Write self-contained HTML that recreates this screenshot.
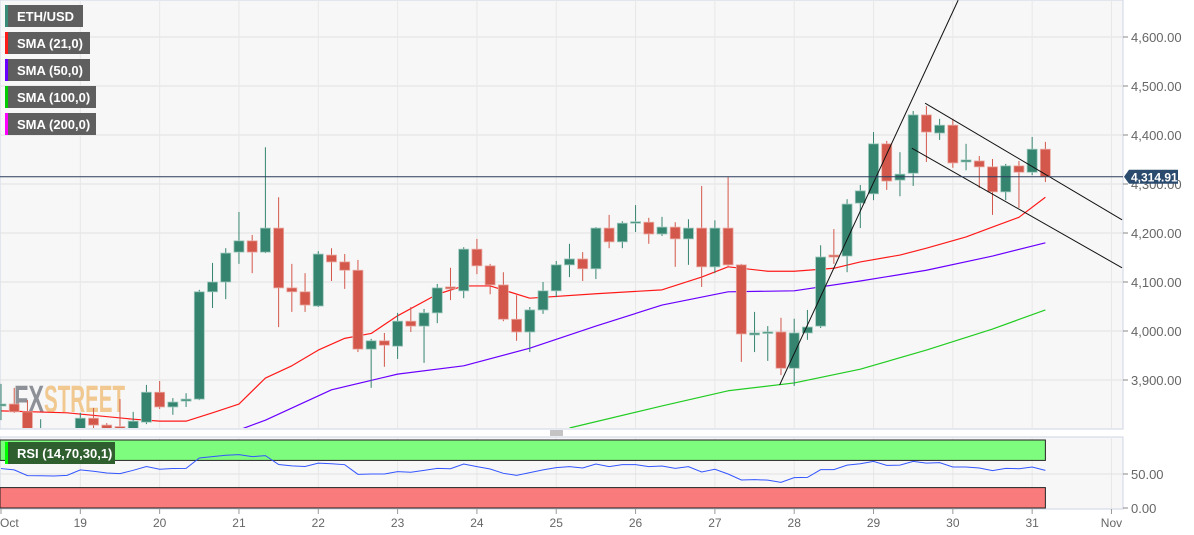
<!DOCTYPE html>
<html><head><meta charset="utf-8"><style>
html,body{margin:0;padding:0;background:#fff;}
svg{display:block;font-family:"Liberation Sans",sans-serif;}
</style></head><body>
<svg id="c" width="1194" height="535" xmlns="http://www.w3.org/2000/svg">
<rect x="0" y="0" width="1194" height="535" fill="#ffffff"/>
<rect x="0" y="0" width="1123" height="429" fill="#f7f7f7" stroke="#cfd6e4"/>
<rect x="0" y="437" width="1123" height="72" fill="#f7f7f7" stroke="#cfd6e4"/>
<g id="grid"></g>
<g>
<text x="14" y="412" font-family="'Liberation Sans Narrow','Liberation Sans',sans-serif" font-weight="bold" font-size="38" fill="#8d9097" textLength="30" lengthAdjust="spacingAndGlyphs">FX</text>
<text x="44" y="412" font-family="'Liberation Sans Narrow','Liberation Sans',sans-serif" font-weight="bold" font-size="38" fill="#f0c890" textLength="81" lengthAdjust="spacingAndGlyphs">STREET</text>
</g>
<g id="price" clip-path="url(#pclip)"></g>
<g id="rsi"></g>
<g id="axes"></g>
<defs><clipPath id="pclip"><rect x="0" y="0" width="1123" height="428"/></clipPath></defs>
<g font-size="13" font-weight="bold" fill="#fff">
<g><rect x="5" y="5" width="78" height="22" fill="#5f5f5f"/><rect x="5" y="5" width="3" height="22" fill="#3a8a78"/><text x="17" y="21" fill="#fff">ETH/USD</text></g>
<g><rect x="5" y="32" width="85" height="22" fill="#5f5f5f"/><rect x="5" y="32" width="3" height="22" fill="#ff1a1a"/><text x="17" y="48" fill="#fff">SMA (21,0)</text></g>
<g><rect x="5" y="59" width="85" height="22" fill="#5f5f5f"/><rect x="5" y="59" width="3" height="22" fill="#6a00ff"/><text x="17" y="75" fill="#fff">SMA (50,0)</text></g>
<g><rect x="5" y="86" width="91" height="22" fill="#5f5f5f"/><rect x="5" y="86" width="3" height="22" fill="#00cc00"/><text x="17" y="102" fill="#fff">SMA (100,0)</text></g>
<g><rect x="5" y="113" width="91" height="22" fill="#5f5f5f"/><rect x="5" y="113" width="3" height="22" fill="#ff00ff"/><text x="17" y="129" fill="#fff">SMA (200,0)</text></g>
</g>
<g stroke="#888"><line x1="550" y1="431" x2="563" y2="431"/><line x1="550" y1="433" x2="563" y2="433"/><line x1="550" y1="435" x2="563" y2="435"/></g>
</svg>
<script>
const opens=[3847,3851,3835,3770,3790,3775,3790,3822,3808,3805,3795,3814,3875,3845,3857,3861,4080,4100,4161,4184,4161,4210,4088,4080,4051,4155,4141,4124,3963,3980,3969,4020,4010,4037,4090,4082,4167,4133,4094,4024,3998,4043,4082,4135,4147,4127,4210,4182,4220,4222,4198,4212,4188,4210,4131,4210,4135,3992,3996,3998,3924,3996,4010,4155,4153,4261,4280,4382,4308,4322,4441,4404,4420,4345,4347,4335,4284,4337,4324,4371];
const highs=[3892,3884,3859,3820,3800,3800,3833,3843,3812,3861,3835,3890,3898,3863,3873,4084,4139,4169,4243,4196,4375,4273,4137,4118,4163,4169,4157,4145,3984,3996,4037,4049,4045,4096,4129,4171,4188,4137,4120,4073,4049,4100,4143,4178,4161,4212,4237,4224,4257,4231,4233,4222,4228,4296,4226,4314,4137,4039,4010,4027,4025,4043,4175,4208,4269,4298,4406,4388,4365,4449,4459,4433,4433,4382,4357,4351,4341,4347,4396,4386];
const lows=[3818,3833,3760,3750,3750,3760,3780,3800,3780,3785,3785,3810,3841,3829,3845,3859,4047,4065,4137,4118,4159,4008,4039,4039,4049,4102,4086,3957,3884,3927,3943,3998,3935,4016,4063,4067,4116,4075,4020,3980,3957,4035,4069,4110,4102,4106,4169,4169,4202,4178,4194,4131,4135,4090,4118,4133,3937,3957,3939,3910,3888,3982,4006,4137,4120,4210,4267,4288,4275,4296,4345,4390,4333,4328,4292,4237,4267,4251,4318,4304];
const closes=[3851,3835,3780,3790,3770,3795,3822,3808,3790,3800,3816,3875,3845,3855,3861,4080,4100,4159,4184,4161,4210,4088,4080,4053,4157,4141,4124,3963,3980,3971,4020,4010,4037,4088,4086,4167,4133,4094,4024,3998,4043,4082,4135,4147,4127,4210,4182,4220,4223,4198,4212,4188,4210,4131,4210,4135,3994,3996,3998,3924,3996,4008,4151,4151,4259,4286,4382,4306,4320,4441,4406,4420,4343,4349,4335,4284,4337,4324,4371,4315];
const smaIdx=[0,5,10,12,14,16,18,20,22,24,26,28,30,33,35,37,40,45,50,53,55,58,60,63,65,68,70,73,75,77,79];
const sma21=[3837,3833,3820,3816,3816,3833,3851,3904,3929,3961,3985,3995,4031,4075,4092,4092,4067,4076,4084,4110,4131,4122,4122,4128,4141,4155,4169,4192,4212,4232,4273];
const sma50Idx=[18,20,25,30,35,40,45,50,55,60,65,70,75,79];
const sma50=[3798,3818,3880,3912,3929,3965,4010,4053,4080,4082,4102,4124,4153,4180];
const sma100Idx=[43,50,55,60,65,70,75,79];
const sma100=[3802,3847,3878,3894,3922,3961,4004,4043];
const rsiVals=[58,56,47.6,47.4,47,48,56,54,51.5,50.5,55.4,61,57,58,58.3,73.5,75.5,77.5,78.4,75.5,77,64,62,61,66,65,63.7,49.5,50,50,53.4,52.5,55.4,58.3,57.8,64.7,60.8,57.4,51,48,52,56,59.3,60.8,58.8,64.7,60.8,63.7,63.7,60.8,61.8,58.3,60.8,53,57,50,41.2,41.7,41,37.7,44.6,45,56.4,56.4,63,65,68.6,62.7,63,68.6,66,66.7,60.3,60.3,58.8,55,58.3,57.8,60.3,55.4];
const priceTicks=[3900,4000,4100,4200,4300,4400,4500,4600];
const dayLabels=["Oct","19","20","21","22","23","24","25","26","27","28","29","30","31","Nov"];
const rsiTicks=[0,50];
const lastPrice=4314.91;
const trendLines=[[58.9,3890,72.4,4675],[69.9,4465,84.8,4227],[68.9,4373,84.8,4129]];

const NS="http://www.w3.org/2000/svg";
const X=i=>1+13.22*i;
const Y=p=>37+(4600-p)*0.49;
const RY=v=>508-v*0.68;
function mk(parent,tag,attrs){const e=document.createElementNS(NS,tag);for(const k in attrs)e.setAttribute(k,attrs[k]);parent.appendChild(e);return e;}
const grid=document.getElementById('grid'),price=document.getElementById('price'),rsi=document.getElementById('rsi'),axes=document.getElementById('axes');

priceTicks.forEach(p=>{
  const l=mk(grid,'line',{x1:0,x2:1123,y1:Y(p),y2:Y(p),stroke:'#e2e2e2'});
  
  
  const t=mk(axes,'line',{x1:1123,x2:1128,y1:Y(p),y2:Y(p),stroke:'#888'});
  
  
  const tx=mk(axes,'text',{x:1131,y:Y(p)+5,'font-size':13,fill:'#666'});
  tx.textContent=p.toLocaleString('en-US',{minimumFractionDigits:2});
  
  
});
dayLabels.forEach((d,k)=>{
  const x=X(6*k);
  if(k>0){
    const v=mk(grid,'line',{x1:x,x2:x,y1:0,y2:428,stroke:'#e8e8e8'});
    
    
    const v2=mk(grid,'line',{x1:x,x2:x,y1:437,y2:509,stroke:'#e8e8e8'});
    
    
  }
  const tk=mk(axes,'line',{x1:x,x2:x,y1:509,y2:514,stroke:'#999'});
  
  
  const t=mk(axes,'text',{x:k===0?0:x,y:527,'font-size':12,fill:'#666','text-anchor':k===0?'start':'middle'});
  t.textContent=d;
  
  
});

function poly(parent,idx,vals,color,name){
  const pts=idx.map((i,k)=>X(i)+','+Y(vals[k])).join(' ');
  const e=mk(parent,'polyline',{points:pts,fill:'none',stroke:color,'stroke-width':1.2,'stroke-linejoin':'round'});
  
  
}
poly(price,smaIdx,sma21,'#ff1a1a','sma-21-line');
poly(price,sma50Idx,sma50,'#6a00ff','sma-50-line');
poly(price,sma100Idx,sma100,'#22cc22','sma-100-line');

opens.forEach((o,i)=>{
  const c=closes[i],up=c>=o,col=up?'#35846f':'#d3574a',edge=up?'#9cc7bb':'#eaa9a2';
  const x=X(i);
  const w=mk(price,'line',{x1:x,x2:x,y1:Y(highs[i]),y2:Y(lows[i]),stroke:col});
  
  
  const top=Y(Math.max(o,c)),h=Math.max(1.5,Math.abs(Y(o)-Y(c)));
  const b=mk(price,'rect',{x:x-5,y:top,width:10,height:h,fill:col,stroke:edge,'stroke-width':0.8});
  
  
});

trendLines.forEach(t=>{
  const l=mk(price,'line',{x1:X(t[0]),y1:Y(t[1]),x2:X(t[2]),y2:Y(t[3]),stroke:'#111','stroke-width':1});
  
  
});

const lp=mk(price,'line',{x1:0,x2:1123,y1:Y(lastPrice),y2:Y(lastPrice),stroke:'#2a3d5c','stroke-width':1});


const tag=mk(axes,'path',{d:`M1124 ${Y(lastPrice)} L1129 ${Y(lastPrice)-7} L1178 ${Y(lastPrice)-7} L1178 ${Y(lastPrice)+7} L1129 ${Y(lastPrice)+7} Z`,fill:'#2a4a6e'});


const tagt=mk(axes,'text',{x:1131,y:Y(lastPrice)+5,'font-size':12,'font-weight':'bold',fill:'#fff'});
tagt.textContent=lastPrice.toLocaleString('en-US',{minimumFractionDigits:2});



const xEnd=X(opens.length-1);
const g50=mk(rsi,'line',{x1:0,x2:1123,y1:RY(50),y2:RY(50),stroke:'#e0e0e0'});


const ob=mk(rsi,'rect',{x:0,y:RY(100),width:xEnd,height:RY(70)-RY(100),fill:'#7dfc7d',stroke:'#222','stroke-width':1});


const os=mk(rsi,'rect',{x:0,y:RY(30),width:xEnd,height:RY(0)-RY(30),fill:'#fa7b7b',stroke:'#222','stroke-width':1});


const rl=mk(rsi,'polyline',{points:rsiVals.map((v,i)=>X(i)+','+RY(v)).join(' '),fill:'none',stroke:'#3355ff','stroke-width':1});


rsiTicks.forEach(v=>{
  const t=mk(axes,'line',{x1:1123,x2:1128,y1:RY(v),y2:RY(v),stroke:'#888'});
  
  
  const tx=mk(axes,'text',{x:1131,y:RY(v)+5,'font-size':13,fill:'#666'});
  tx.textContent=v.toFixed(2);
  
  
});
const rb=mk(rsi,'g',{});


mk(rb,'rect',{x:5,y:442,width:110,height:22,fill:'#2f5e2f'});
mk(rb,'rect',{x:5,y:442,width:3,height:22,fill:'#00ff00'});
const rt=mk(rb,'text',{x:17,y:458,'font-size':13,'font-weight':'bold',fill:'#fff'});
rt.textContent='RSI (14,70,30,1)';
</script>
</body></html>
